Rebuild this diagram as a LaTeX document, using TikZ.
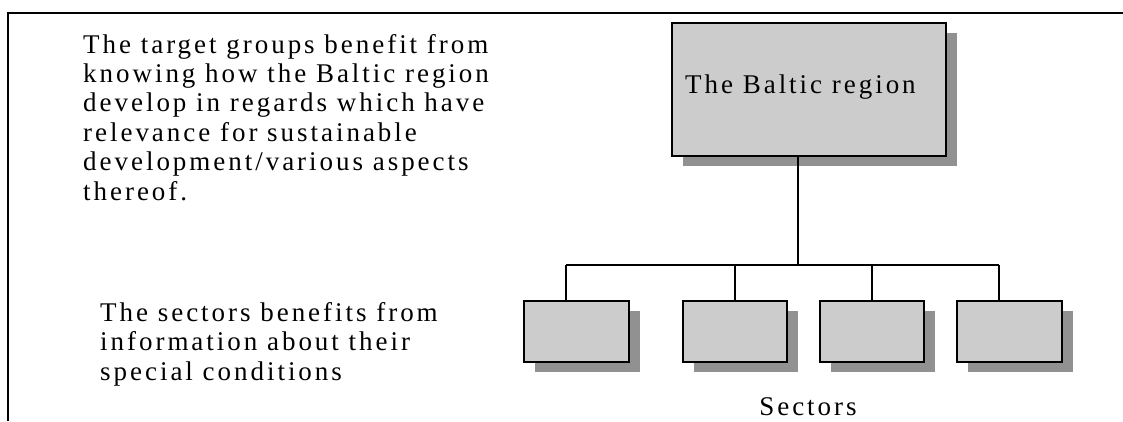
\documentclass[tikz,border=0pt]{standalone}
\usepackage{fontspec}
\setmainfont{Liberation Serif}
\newfontfamily\trackedserif[LetterSpace=11]{Liberation Serif}
\usetikzlibrary{shadows,calc}

\definecolor{boxgray}{RGB}{204,204,204}
\definecolor{shadowgray}{RGB}{145,145,145}

\begin{document}
\begin{tikzpicture}[x=1pt,y=-1pt,
  orgbox/.style={draw=black, line width=1.4pt, fill=boxgray, inner sep=0pt,
    drop shadow={shadow xshift=10.5pt, shadow yshift=-9.5pt, fill=shadowgray, opacity=1}},
  wire/.style={draw=black, line width=1.3pt},
  para/.style={align=left, inner sep=0pt,
    font=\trackedserif\fontsize{27}{29.4}\selectfont},
  label/.style={inner sep=0pt, font=\trackedserif\fontsize{27}{29.4}\selectfont}]

  \useasboundingbox (0,0) rectangle (1123,421);

  % page frame: top rule and left rule
  \coordinate (frameTL) at (8,13);
  \coordinate (frameTR) at (1123,13);
  \coordinate (frameBL) at (8,421);
  \draw[line width=2.2pt] (frameBL) -- (frameTL) -- (frameTR);

  % left-hand explanations (anchored on the baseline of the last line)
  \node[para, anchor=base west] (goal) at (83,200)
    {The target groups benefit from\\
     knowing how the Baltic region\\
     develop in regards which have\\
     relevance for sustainable\\
     development/various aspects\\
     thereof.};
  \node[para, anchor=base west] (secnote) at (100,380)
    {The sectors benefits from\\
     information about their\\
     special conditions};

  % organisation chart
  \node[orgbox, minimum width=274pt, minimum height=133pt] (region) at (809,89.5) {};
  \node[label, anchor=base west] (regionlabel) at (685,93) {The Baltic region};

  \node[orgbox, minimum width=105pt, minimum height=61pt] (s1) at (576.5,331.5) {};
  \node[orgbox, minimum width=104pt, minimum height=61pt] (s2) at (735,331.5) {};
  \node[orgbox, minimum width=104pt, minimum height=61pt] (s3) at (872,331.5) {};
  \node[orgbox, minimum width=105pt, minimum height=61pt] (s4) at (1009.5,331.5) {};

  \node[label, anchor=base] (sectors) at (808,415) {Sectors};

  % connectors
  \coordinate (bus) at (798,265);
  \coordinate (j1) at (566,265);
  \coordinate (j2) at (735,265);
  \coordinate (j3) at (872,265);
  \coordinate (j4) at (999,265);
  \draw[wire] (region.south -| bus) -- (bus);
  \draw[wire] (j1) -- (j4);
  \draw[wire] (j1) -- (j1 |- s1.north);
  \draw[wire] (j2) -- (j2 |- s2.north);
  \draw[wire] (j3) -- (j3 |- s3.north);
  \draw[wire] (j4) -- (j4 |- s4.north);
\end{tikzpicture}
\end{document}
